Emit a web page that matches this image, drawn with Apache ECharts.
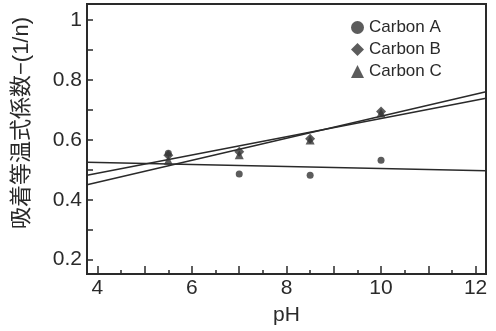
<!DOCTYPE html>
<html>
<head>
<meta charset="utf-8">
<script src="https://cdn.jsdelivr.net/npm/echarts@6/dist/echarts.min.js"></script>
<style>html,body{margin:0;padding:0;background:#fff}#c{width:496px;height:331px}</style>
</head>
<body>
<div id="c"></div>
<script>
// ---- data ----
const pH = [5.5, 7, 8.5, 10];
const carbonA = [0.555, 0.486, 0.482, 0.532];
const carbonB = [0.549, 0.56, 0.604, 0.695];
const carbonC = [0.532, 0.55, 0.60, 0.69];
// fitted lines read at the plot edges (pH 3.78 and 12.22)
const lineX = [3.78, 12.22];
const fitA = [0.525, 0.497];
const fitB = [0.482, 0.739];
const fitC = [0.450, 0.761];
const xTickMajor = [4, 5, 6, 7, 8, 9, 10, 11, 12];
const xTickMinor = [4.5, 5.5, 6.5, 7.5, 8.5, 9.5, 10.5, 11.5];
const xLabels = [4, 6, 8, 10, 12];
const yTicks = [0.2, 0.3, 0.4, 0.5, 0.6, 0.7, 0.8, 0.9, 1.0];
const yLabels = [0.2, 0.4, 0.6, 0.8, 1];
const seriesNames = ['Carbon A', 'Carbon B', 'Carbon C'];
const yTitle = '吸着等温式係数−(1/n)';
const xTitle = 'pH';

const ink = '#2a2a2a';
const font = '"Liberation Sans", Arial, "Noto Sans CJK JP", sans-serif';
const pts = (ys) => pH.map((x, i) => [x, ys[i]]);
const ln = (ys) => lineX.map((x, i) => [x, ys[i]]);

const chart = echarts.init(document.getElementById('c'), null, {renderer: 'canvas'});
chart.setOption({
  animation: false,
  backgroundColor: '#fff',
  textStyle: {fontFamily: font},
  grid: {left: 87, right: 10, top: 4, bottom: 55, show: true, borderColor: ink, borderWidth: 2, backgroundColor: 'transparent'},
  legend: {
    data: seriesNames, orient: 'vertical', left: 346, top: 14,
    itemWidth: 13, itemHeight: 13, itemGap: 5,
    textStyle: {fontSize: 17, color: ink, fontFamily: font, lineHeight: 16}
  },
  xAxis: [{
    type: 'value', min: lineX[0], max: lineX[1],
    name: xTitle, nameLocation: 'middle', nameGap: 31,
    nameTextStyle: {fontSize: 21, color: ink, fontFamily: font},
    splitLine: {show: false},
    axisLine: {show: true, lineStyle: {color: ink, width: 2}},
    axisTick: {show: true, inside: true, length: 4, customValues: xTickMinor, lineStyle: {color: ink, width: 1.5}},
    axisLabel: {customValues: xLabels, fontSize: 21, color: ink, margin: 4, fontFamily: font}
  }, {
    type: 'value', min: lineX[0], max: lineX[1], position: 'bottom',
    splitLine: {show: false},
    axisLine: {show: false},
    axisTick: {show: true, inside: true, length: 8, customValues: xTickMajor, lineStyle: {color: ink, width: 1.5}},
    axisLabel: {show: false}
  }],
  yAxis: {
    type: 'value', min: 0.152, max: 1.054,
    splitLine: {show: false},
    axisLine: {show: true, lineStyle: {color: ink, width: 2}},
    axisTick: {show: true, inside: true, length: 6, customValues: yTicks, lineStyle: {color: ink, width: 1.5}},
    axisLabel: {customValues: yLabels, fontSize: 21, color: ink, margin: 5, fontFamily: font,
      formatter: v => String(Math.round(v * 10) / 10)}
  },
  graphic: [{
    type: 'text', x: 22, y: 123, rotation: Math.PI / 2,
    style: {text: yTitle, fontSize: 22, fill: ink, fontFamily: font, align: 'center', verticalAlign: 'middle'}
  }],
  series: [
    {name: seriesNames[0], type: 'scatter', symbol: 'circle', symbolSize: 7, data: pts(carbonA), itemStyle: {color: '#333'}, z: 3},
    {name: seriesNames[1], type: 'scatter', symbol: 'diamond', symbolSize: 10, data: pts(carbonB), itemStyle: {color: '#333'}, z: 3},
    {name: seriesNames[2], type: 'scatter', symbol: 'triangle', symbolSize: 9, data: pts(carbonC), itemStyle: {color: '#333'}, z: 3},
    {type: 'line', data: ln(fitA), symbol: 'none', lineStyle: {color: ink, width: 1.5}, itemStyle: {color: ink}, z: 2},
    {type: 'line', data: ln(fitB), symbol: 'none', lineStyle: {color: ink, width: 1.5}, itemStyle: {color: ink}, z: 2},
    {type: 'line', data: ln(fitC), symbol: 'none', lineStyle: {color: ink, width: 1.5}, itemStyle: {color: ink}, z: 2}
  ]
});
</script>
</body>
</html>
